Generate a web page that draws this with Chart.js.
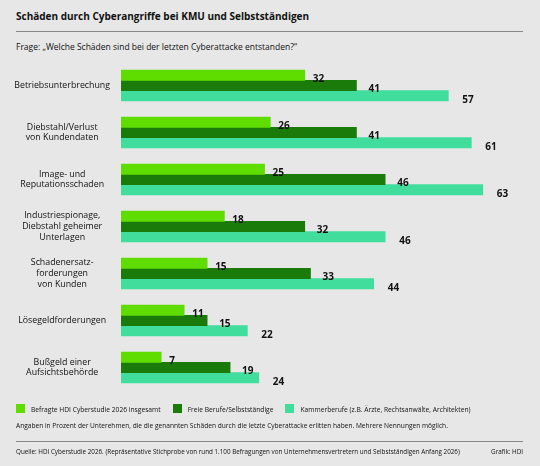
<!DOCTYPE html>
<html><head><meta charset="utf-8">
<script src="https://cdn.jsdelivr.net/npm/chart.js@4"></script>
<style>
body{margin:0;width:540px;height:466px;background:#e7e7e7;font-family:"Open Sans",sans-serif;position:relative;overflow:hidden;color:#111}
#c{position:absolute;left:0;top:0}
.t{position:absolute;white-space:nowrap}
.line{position:absolute;left:16px;width:507px;height:1px;background:#888}
.sw{display:inline-block;width:9px;height:9px;vertical-align:-1px;margin-right:6px}
</style></head><body>
<div class="t" style="left:16px;top:9px;font-size:10px;font-weight:bold">Schäden durch Cyberangriffe bei KMU und Selbstständigen</div>
<div class="line" style="top:31px"></div>
<div class="t" style="left:16px;top:41px;font-size:8.5px">Frage: „Welche Schäden sind bei der letzten Cyberattacke entstanden?“</div>
<canvas id="c" width="540" height="466"></canvas>
<div class="t" style="left:16px;top:404px;font-size:6.7px"><span class="sw" style="background:#5fdc00"></span>Befragte HDI Cyberstudie 2026 insgesamt<span style="display:inline-block;width:12px"></span><span class="sw" style="background:#1a7a0a"></span>Freie Berufe/Selbstständige<span style="display:inline-block;width:12px"></span><span class="sw" style="background:#40dd9c"></span>Kammerberufe (z.B. Ärzte, Rechtsanwälte, Architekten)</div>
<div class="t" style="left:16px;top:421px;font-size:6.6px">Angaben in Prozent der Unterehmen, die die genannten Schäden durch die letzte Cyberattacke erlitten haben. Mehrere Nennungen möglich.</div>
<div class="line" style="top:441px"></div>
<div class="t" style="left:16px;top:447px;font-size:6.3px">Quelle: HDI Cyberstudie 2026. (Repräsentative Stichprobe von rund 1.100 Befragungen von Unternehmensvertretern und Selbstständigen Anfang 2026)</div>
<div class="t" style="right:17px;top:447px;font-size:6.3px">Grafik: HDI</div>
<script>
const categories=[["Betriebsunterbrechung"],["Diebstahl/Verlust","von Kundendaten"],["Image- und","Reputationsschaden"],["Industriespionage,","Diebstahl geheimer","Unterlagen"],["Schadenersatz-","forderungen","von Kunden"],["Lösegeldforderungen"],["Bußgeld einer","Aufsichtsbehörde"]];
const seriesNames=["Befragte HDI Cyberstudie 2026 insgesamt","Freie Berufe/Selbstständige","Kammerberufe (z.B. Ärzte, Rechtsanwälte, Architekten)"];
const total=[32,26,25,18,15,11,7];
const freie=[41,41,46,32,33,15,19];
const kammer=[57,61,63,46,44,22,24];
const colors=["#5fdc00","#1a7a0a","#40dd9c"];
const labelPlugin={id:'vals',afterDatasetsDraw(ch){const ctx=ch.ctx;ctx.save();ctx.font='bold 10px "Open Sans"';ctx.fillStyle='#111';ctx.textBaseline='middle';
ch.data.datasets.forEach((d,i)=>{ch.getDatasetMeta(i).data.forEach((el,j)=>{ctx.fillText(d.data[j],el.x+(i==2?14:i==1?12:8),el.y+4);});});ctx.restore();}};
new Chart(document.getElementById('c'),{type:'bar',
data:{labels:categories,datasets:[total,freie,kammer].map((d,i)=>({label:seriesNames[i],data:d,backgroundColor:colors[i],barThickness:10.3}))},
options:{indexAxis:'y',responsive:false,animation:false,
layout:{padding:{left:10,top:62,bottom:75,right:17}},
plugins:{legend:{display:false},tooltip:{enabled:false}},
scales:{x:{display:false,min:0,max:70},
y:{grid:{display:false},border:{display:false},afterFit:s=>{s.width=111},
ticks:{crossAlign:'center',color:'#111',font:{size:8.8,family:'"Open Sans"'}}}}},
plugins:[labelPlugin]});
</script></body></html>
